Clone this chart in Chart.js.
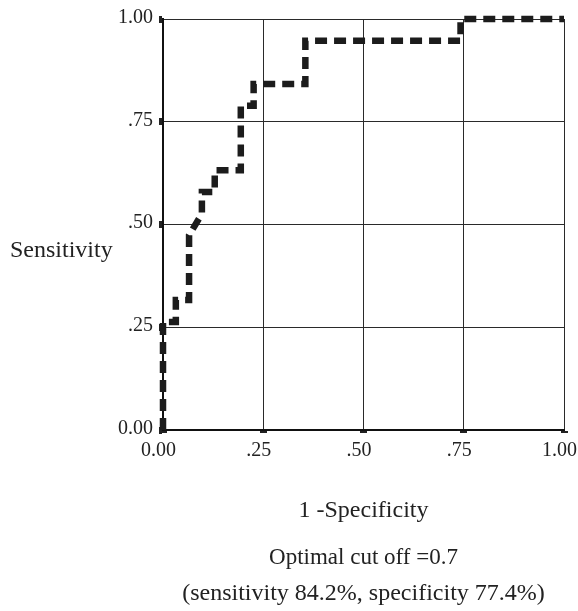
<!DOCTYPE html>
<html>
<head>
<meta charset="utf-8">
<script src="https://cdn.jsdelivr.net/npm/chart.js@4.4.1/dist/chart.umd.min.js"></script>
<style>
  html, body { margin: 0; padding: 0; background: #fff; }
  canvas { display: block; }
</style>
</head>
<body>
<canvas id="roc" width="578" height="611"></canvas>
<script>
// ROC curve points (1 - specificity, sensitivity)
var falsePosRate = [0, 0, 0.032, 0.032, 0.065, 0.065, 0.097, 0.097, 0.129, 0.129, 0.194, 0.194, 0.226, 0.226, 0.355, 0.355, 0.742, 0.742, 1.0];
var sensitivity  = [0, 0.263, 0.263, 0.316, 0.316, 0.474, 0.526, 0.579, 0.579, 0.632, 0.632, 0.789, 0.789, 0.842, 0.842, 0.947, 0.947, 1.0, 1.0];

// tick labels, same on both axes
var xTickLabels = ['0.00', '.25', '.50', '.75', '1.00'];
var yTickLabels = ['0.00', '.25', '.50', '.75', '1.00'];

var yTitle = 'Sensitivity';
var xTitle = '1 -Specificity';
var noteLines = ['Optimal cut off =0.7', '(sensitivity 84.2%, specificity 77.4%)'];

var points = falsePosRate.map(function (x, i) {
  return { x: x, y: sensitivity[i] };
});

// plain text around the plot (y title is horizontal, not rotated)
var labelsPlugin = {
  id: 'labels',
  afterDraw: function (chart) {
    var c = chart.ctx;
    var area = chart.chartArea;
    var mid = (area.left + area.right) / 2;
    c.save();
    c.fillStyle = '#222';
    c.font = '24px "Liberation Serif", "Times New Roman", serif';
    c.textBaseline = 'alphabetic';
    c.textAlign = 'left';
    c.fillText(yTitle, 10, 257);
    c.textAlign = 'center';
    c.fillText(xTitle, mid, 517);
    c.font = '23px "Liberation Serif", "Times New Roman", serif';
    c.fillText(noteLines[0], mid, 564);
    c.font = '24px "Liberation Serif", "Times New Roman", serif';
    c.fillText(noteLines[1], mid, 600);
    c.restore();
  }
};

var tickFont = { family: '"Liberation Serif", "Times New Roman", serif', size: 20 };

var ctx = document.getElementById('roc');
var rocChart = new Chart(ctx, {
  type: 'scatter',
  data: {
    datasets: [
      {
        data: points,
        showLine: true,
        borderColor: '#1c1c1c',
        borderWidth: 6.5,
        borderDash: [12, 7],
        borderJoinStyle: 'miter',
        borderCapStyle: 'butt',
        pointRadius: 0,
        tension: 0,
        clip: false
      }
    ]
  },
  options: {
    responsive: false,
    animation: false,
    layout: { padding: { top: 19, right: 14, left: 0, bottom: 0 } },
    plugins: {
      legend: { display: false },
      tooltip: { enabled: false }
    },
    scales: {
      x: {
        type: 'linear',
        min: 0,
        max: 1,
        afterFit: function (s) {
          s.height = 181;
          s.paddingLeft = 0;
          s.paddingRight = 0;
        },
        ticks: {
          stepSize: 0.25,
          color: '#222',
          font: tickFont,
          padding: 6,
          labelOffset: -4.5,
          maxRotation: 0,
          callback: function (v, i) { return xTickLabels[i]; }
        },
        grid: {
          color: '#2a2a2a',
          lineWidth: 1,
          tickLength: 3,
          tickWidth: 7,
          tickColor: '#222'
        },
        border: { display: true, color: '#111', width: 2 }
      },
      y: {
        type: 'linear',
        min: 0,
        max: 1,
        afterFit: function (s) {
          s.width = 163;
          s.paddingTop = 0;
          s.paddingBottom = 0;
        },
        ticks: {
          stepSize: 0.25,
          color: '#222',
          font: tickFont,
          padding: 6,
          labelOffset: -1.5,
          callback: function (v, i) { return yTickLabels[i]; }
        },
        grid: {
          color: '#2a2a2a',
          lineWidth: 1,
          tickLength: 4,
          tickWidth: 7,
          tickColor: '#222'
        },
        border: { display: true, color: '#111', width: 2 }
      }
    }
  },
  plugins: [labelsPlugin]
});
</script>
</body>
</html>
